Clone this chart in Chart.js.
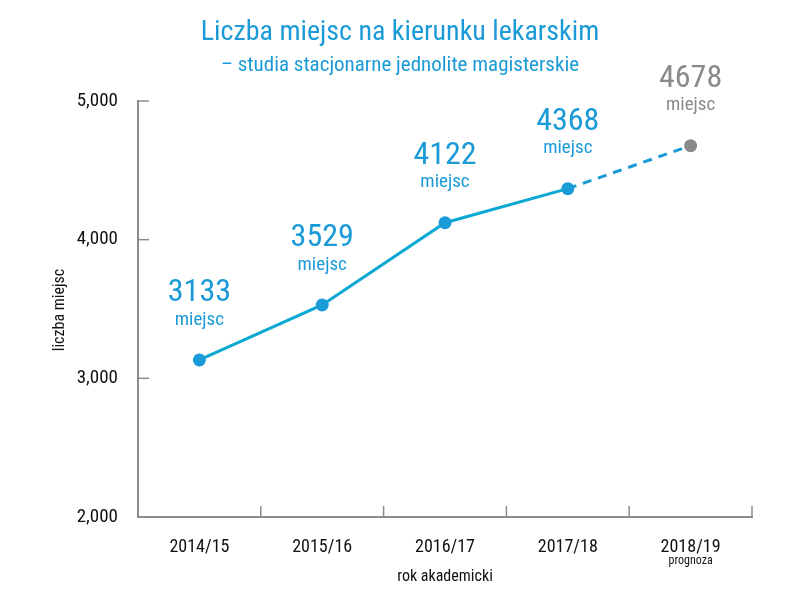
<!DOCTYPE html>
<html>
<head>
<meta charset="utf-8">
<script src="https://cdn.jsdelivr.net/npm/chart.js@4"></script>
<style>
  body { margin: 0; background: #fff; }
  #wrap { width: 800px; height: 601px; }
</style>
</head>
<body>
<div id="wrap"><canvas id="c"></canvas></div>
<script>
const labels = ['2014/15', '2015/16', '2016/17', '2017/18', '2018/19'];
const values = [3133, 3529, 4122, 4368, 4678];
const yTicks = [2000, 3000, 4000, 5000];

const FONT = '"Liberation Sans Narrow", "Roboto Condensed", Roboto, sans-serif';
const BLUE = '#1a9ad6';
const LINE = '#0aa8d2';
const GREY = '#8a8a8a';
const AXIS = '#8c8c8c';

const overlay = {
  id: 'overlay',
  afterDraw(chart) {
    const ctx = chart.ctx;
    const x = chart.scales.x, y = chart.scales.y;
    const area = chart.chartArea;
    ctx.save();
    // small inner ticks
    ctx.strokeStyle = AXIS;
    ctx.lineWidth = 1.5;
    for (let i = 1; i <= labels.length; i++) {
      const px = x.getPixelForValue(i - 0.5);
      ctx.beginPath(); ctx.moveTo(px, area.bottom); ctx.lineTo(px, area.bottom - 11); ctx.stroke();
    }
    yTicks.slice(1).forEach(v => {
      const py = y.getPixelForValue(v);
      ctx.beginPath(); ctx.moveTo(area.left, py); ctx.lineTo(area.left + 11, py); ctx.stroke();
    });
    // titles
    ctx.textAlign = 'center';
    ctx.textBaseline = 'middle';
    ctx.fillStyle = BLUE;
    ctx.font = '28px ' + FONT;
    ctx.fillText('Liczba miejsc na kierunku lekarskim', 400, 33);
    ctx.font = '21px ' + FONT;
    ctx.fillText('– studia stacjonarne jednolite magisterskie', 400, 66);
    ctx.fillStyle = '#111';
    ctx.font = '16px ' + FONT;
    ctx.fillText('rok akademicki', 445, 577);
    ctx.font = '12px ' + FONT;
    ctx.fillText('prognoza', x.getPixelForValue(4), 561);
    ctx.save();
    ctx.translate(60, 310);
    ctx.rotate(-Math.PI / 2);
    ctx.font = '16px ' + FONT;
    ctx.fillText('liczba miejsc', 0, 0);
    ctx.restore();
    // value labels
    const meta = chart.getDatasetMeta(0);
    meta.data.forEach((pt, i) => {
      ctx.fillStyle = i === labels.length - 1 ? GREY : BLUE;
      ctx.font = '32px ' + FONT;
      ctx.fillText(String(values[i]), pt.x, pt.y - 67);
      ctx.font = '19px ' + FONT;
      ctx.fillText('miejsc', pt.x, pt.y - 40);
    });
    ctx.restore();
  }
};

const last = labels.length - 1;
new Chart(document.getElementById('c'), {
  type: 'line',
  data: {
    labels: labels,
    datasets: [{
      data: values,
      borderColor: LINE,
      borderWidth: 3,
      pointRadius: 6.5,
      pointHoverRadius: 6.5,
      pointBorderWidth: 0,
      pointBackgroundColor: values.map((v, i) => i === last ? GREY : BLUE),
      segment: {
        borderDash: c => c.p1DataIndex === last ? [9, 7] : undefined,
        borderColor: c => c.p1DataIndex === last ? BLUE : LINE
      },
      tension: 0
    }]
  },
  options: {
    responsive: true,
    maintainAspectRatio: false,
    animation: false,
    layout: { padding: { top: 101, right: 48, bottom: 0, left: 0 } },
    plugins: { legend: { display: false }, tooltip: { enabled: false } },
    scales: {
      x: {
        offset: true,
        grid: { display: false },
        border: { display: true, color: AXIS, width: 2 },
        ticks: { color: '#111', font: { family: FONT, size: 18 }, padding: 12 },
        afterFit: s => { s.height = 84; }
      },
      y: {
        min: 2000, max: 5000,
        afterBuildTicks: s => { s.ticks = yTicks.map(v => ({ value: v })); },
        grid: { display: false },
        border: { display: true, color: AXIS, width: 2 },
        ticks: { color: '#111', font: { family: FONT, size: 19 }, padding: 12 },
        afterFit: s => { s.width = 138; }
      }
    }
  },
  plugins: [overlay]
});
</script>
</body>
</html>
